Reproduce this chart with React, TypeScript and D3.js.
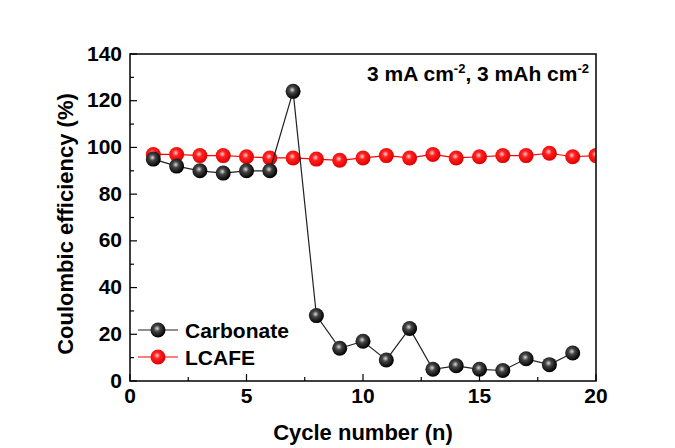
import React from "react";
import * as d3 from "d3";

const cycles = [1, 2, 3, 4, 5, 6, 7, 8, 9, 10, 11, 12, 13, 14, 15, 16, 17, 18, 19, 20];
const carbonate = [95, 92, 90, 89, 90, 90, 124, 28, 14, 17, 9, 22.5, 5, 6.5, 5, 4.5, 9.5, 7, 12];
const lcafe = [97, 97, 96.5, 96.5, 96, 95.5, 95.5, 95, 94.5, 95.5, 96.5, 95.5, 97, 95.5, 96, 96.5, 96.5, 97.5, 96, 96.5];
const xTicks = [0, 5, 10, 15, 20];
const yTicks = [0, 20, 40, 60, 80, 100, 120, 140];

const W = 675, H = 448;
const L = 130, R = 596, T = 54, B = 381;

export default function App() {
  const x = d3.scaleLinear().domain([0, 20]).range([L, R]);
  const y = d3.scaleLinear().domain([0, 140]).range([B, T]);
  const line = d3.line<[number, number]>().x(d => x(d[0])).y(d => y(d[1]));
  const cData: [number, number][] = carbonate.map((v, i) => [cycles[i], v]);
  const lData: [number, number][] = lcafe.map((v, i) => [cycles[i], v]);
  const font = "Arial, 'Liberation Sans', sans-serif";
  const xMinor = d3.range(0, 20.01, 2.5);
  const yMinor = d3.range(0, 140.01, 10);
  const rad = 7.5;
  return (
    <svg width={W} height={H} style={{ position: "absolute", left: 0, top: 0 }} fontFamily={font}>
      <defs>
        <radialGradient id="gBlack" cx="0.4" cy="0.4" r="0.6" fx="0.45" fy="0.4">
          <stop offset="0" stopColor="#d8d8d8" />
          <stop offset="0.35" stopColor="#444" />
          <stop offset="1" stopColor="#000" />
        </radialGradient>
        <radialGradient id="gRed" cx="0.4" cy="0.4" r="0.6" fx="0.45" fy="0.4">
          <stop offset="0" stopColor="#ffd0d0" />
          <stop offset="0.35" stopColor="#ff2020" />
          <stop offset="1" stopColor="#e00000" />
        </radialGradient>
        <clipPath id="plotClip">
          <rect x={L} y={T - 20} width={R - L} height={B - T + 20} />
        </clipPath>
      </defs>
      <rect width={W} height={H} fill="#fff" />
      <g clipPath="url(#plotClip)">
        <path d={line(lData) || ""} fill="none" stroke="#ff0000" strokeWidth={1.2} />
        {lData.map((d, i) => (
          <circle key={"l" + i} cx={x(d[0])} cy={y(d[1])} r={rad} fill="url(#gRed)" />
        ))}
        <path d={line(cData) || ""} fill="none" stroke="#222" strokeWidth={1.2} />
        {cData.map((d, i) => (
          <circle key={"c" + i} cx={x(d[0])} cy={y(d[1])} r={rad} fill="url(#gBlack)" />
        ))}
      </g>
      <rect x={L} y={T} width={R - L} height={B - T} fill="none" stroke="#000" strokeWidth={1.5} />
      {xMinor.map((t, i) => (
        <line key={"xt" + i} x1={x(t)} x2={x(t)} y1={B} y2={B - (t % 5 === 0 ? 7 : 4)} stroke="#000" strokeWidth={1.2} />
      ))}
      {yMinor.map((t, i) => (
        <line key={"yt" + i} x1={L} x2={L + (t % 20 === 0 ? 7 : 4)} y1={y(t)} y2={y(t)} stroke="#000" strokeWidth={1.2} />
      ))}
      {xTicks.map(t => (
        <text key={"xl" + t} x={x(t)} y={B + 22} textAnchor="middle" fontSize={21} fontWeight="bold">{t}</text>
      ))}
      {yTicks.map(t => (
        <text key={"yl" + t} x={L - 8} y={y(t) + 6.5} textAnchor="end" fontSize={21} fontWeight="bold">{t}</text>
      ))}
      <text x={363} y={440} textAnchor="middle" fontSize={22} fontWeight="bold">Cycle number (n)</text>
      <text transform={`translate(73,224) rotate(-90)`} textAnchor="middle" fontSize={22} fontWeight="bold">Coulombic efficiency (%)</text>
      <text x={589} y={81} textAnchor="end" fontSize={21} fontWeight="bold">
        3 mA cm<tspan dy={-8} fontSize={13}>-2</tspan><tspan dy={8}>, 3 mAh cm</tspan><tspan dy={-8} fontSize={13}>-2</tspan>
      </text>
      <g>
        <line x1={138} x2={178} y1={330} y2={330} stroke="#222" strokeWidth={1.2} />
        <circle cx={158} cy={330} r={rad} fill="url(#gBlack)" />
        <text x={185} y={337.5} fontSize={21} fontWeight="bold">Carbonate</text>
        <line x1={138} x2={178} y1={357} y2={357} stroke="#ff0000" strokeWidth={1.2} />
        <circle cx={158} cy={357} r={rad} fill="url(#gRed)" />
        <text x={185} y={364.5} fontSize={21} fontWeight="bold">LCAFE</text>
      </g>
    </svg>
  );
}
